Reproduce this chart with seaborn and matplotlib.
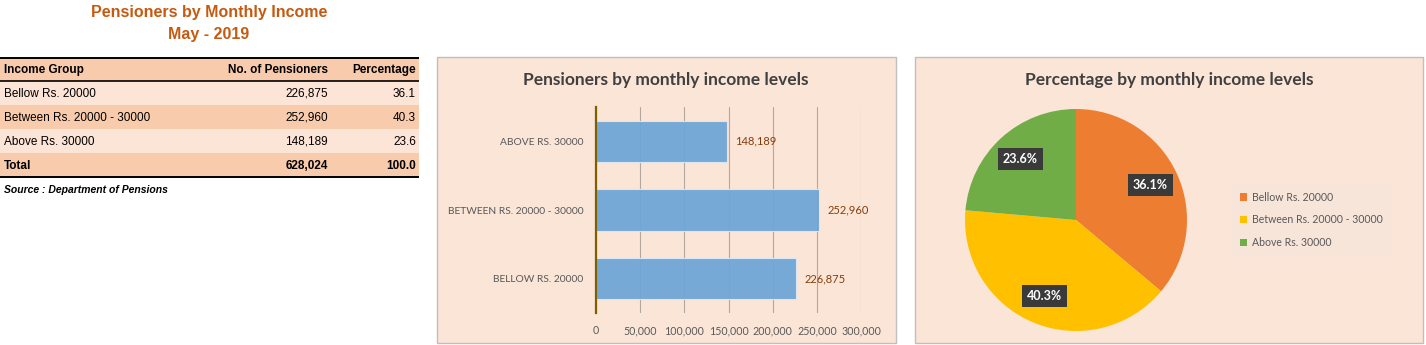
import matplotlib
matplotlib.use("Agg")
import matplotlib.pyplot as plt
from matplotlib import font_manager
from matplotlib.patches import Rectangle
from matplotlib.ticker import FuncFormatter
import seaborn as sns

# --- data -------------------------------------------------------------
groups = ["Bellow Rs. 20000", "Between Rs. 20000 - 30000", "Above Rs. 30000"]
pensioners = [226875, 252960, 148189]
percentages = [36.1, 40.3, 23.6]
total_pensioners = 628024
total_percentage = 100.0
x_ticks = [0, 50000, 100000, 150000, 200000, 250000, 300000]

# --- style ------------------------------------------------------------
sns.set_theme(style="white")
plt.rcParams["font.family"] = ["Liberation Sans", "DejaVu Sans"]
CHART_FONT = ["Lato", "DejaVu Sans"]
installed = {f.name for f in font_manager.fontManager.ttflist}
NARROW_FONT = ["Liberation Sans Narrow"] if "Liberation Sans Narrow" in installed else CHART_FONT
narrow_size = 8.6 if "Liberation Sans Narrow" in installed else 7.4

W, H = 1426, 345
fig = plt.figure(figsize=(W / 100, H / 100), dpi=100)
fig.patch.set_facecolor("white")


def px(l, t, r, b):
    """Pixel box -> figure fraction rect."""
    return [l / W, 1 - b / H, (r - l) / W, (b - t) / H]


PANEL_BG = "#FBE5D7"
TITLE_ORANGE = "#C55A11"
HEAD_FILL = "#F8CBAD"
ROW_FILL = "#FCE4D6"

# --- panel backgrounds (drawn beneath everything) ---------------------
for box in [(437, 57, 896, 343), (915, 57, 1423, 343)]:
    l, t, r, b = box
    fig.patches.append(Rectangle((l / W, 1 - b / H), (r - l) / W, (b - t) / H,
                                 transform=fig.transFigure, facecolor=PANEL_BG,
                                 edgecolor="#BFBFBF", lw=1.0, zorder=-10))

# --- left: title + table ---------------------------------------------
fig.text(209 / W, 1 - 13 / H, "Pensioners by Monthly Income", ha="center", va="center",
         fontsize=11.5, fontweight="bold", color=TITLE_ORANGE)
fig.text(209 / W, 1 - 34 / H, "May - 2019", ha="center", va="center",
         fontsize=11.5, fontweight="bold", color=TITLE_ORANGE)

tab = fig.add_axes(px(0, 57, 419, 178))
tab.set_xlim(0, 419)
tab.set_ylim(121, 0)
tab.axis("off")

rows = [("Income Group", "No. of Pensioners", "Percentage", True)]
for g, n, p in zip(groups, pensioners, percentages):
    rows.append((g, f"{n:,}", f"{p:.1f}", False))
rows.append(("Total", f"{total_pensioners:,}", f"{total_percentage:.1f}", True))
fills = [HEAD_FILL, ROW_FILL, HEAD_FILL, ROW_FILL, HEAD_FILL]
row_h = 24
for i, (a, b, c, bold) in enumerate(rows):
    y0 = i * row_h
    tab.add_patch(Rectangle((0, y0), 419, row_h, facecolor=fills[i], edgecolor="none"))
    yc = y0 + row_h / 2 + 1
    w = "bold" if bold else "normal"
    tab.text(4, yc, a, ha="left", va="center", fontsize=8.5, fontweight=w, color="black")
    tab.text(328, yc, b, ha="right", va="center", fontsize=8.5, fontweight=w, color="black")
    tab.text(416, yc, c, ha="right", va="center", fontsize=8.5, fontweight=w, color="black")
for yl, lw in [(0.5, 1.4), (24, 1.2), (120.3, 1.4)]:
    tab.plot([0, 419], [yl, yl], color="black", lw=lw, solid_capstyle="butt")

fig.text(4 / W, 1 - 190 / H, "Source : Department of Pensions", ha="left", va="center",
         fontsize=7.5, fontweight="bold", fontstyle="italic", color="black")

# --- middle: horizontal bar chart ------------------------------------
bar_order = [g.upper() for g in groups][::-1]
bar_vals = pensioners[::-1]

ax = fig.add_axes(px(596, 107, 861, 313))
ax.set_facecolor("none")
sns.barplot(x=bar_vals, y=bar_order, orient="h", color="#6FA6D6", width=0.6,
            saturation=1, edgecolor="#DCE9F5", linewidth=0.8, alpha=0.95, ax=ax, zorder=3)
ax.set_xlim(0, 300000)
ax.set_xticks(x_ticks)
ax.xaxis.set_major_formatter(FuncFormatter(lambda v, _: f"{int(v):,}"))
ax.grid(axis="x", color="#B3A79E", lw=0.8, zorder=0)
ax.grid(axis="y", visible=False)
for s in ["top", "right", "bottom"]:
    ax.spines[s].set_visible(False)
ax.spines["left"].set_color("#7F6000")
ax.spines["left"].set_linewidth(1.6)
ax.spines["left"].set_zorder(4)
ax.tick_params(axis="x", length=0, pad=9, labelsize=7.7, colors="#595959")
ax.tick_params(axis="y", length=0, pad=9, labelsize=narrow_size, colors="#595959")
for lbl in ax.get_xticklabels():
    lbl.set_family(CHART_FONT)
for lbl in ax.get_yticklabels():
    lbl.set_family(NARROW_FONT)
ax.set_xlabel("")
ax.set_ylabel("")
ax.bar_label(ax.containers[0], labels=[f"{v:,}" for v in bar_vals], padding=6,
             fontsize=8, color="#843C0C", family=CHART_FONT)
fig.text(666 / W, 1 - 80 / H, "Pensioners by monthly income levels", ha="center", va="center",
         fontsize=12.5, fontweight="bold", color="#404040", family=CHART_FONT)

# --- right: pie chart -------------------------------------------------
pie_colors = ["#ED7D31", "#FFC000", "#70AD47"]
pax = fig.add_axes(px(965, 109, 1187, 331))
wedges, _, autotexts = pax.pie(percentages, colors=pie_colors, startangle=90, counterclock=False,
                               autopct="%.1f%%", pctdistance=0.74,
                               wedgeprops=dict(edgecolor="none"))
pax.set_xlim(-1, 1)
pax.set_ylim(-1, 1)
pax.set_aspect("equal")
for t in autotexts:
    t.set_color("white")
    t.set_fontweight("bold")
    t.set_fontsize(9)
    t.set_family(CHART_FONT)
    t.set_bbox(dict(boxstyle="square,pad=0.4", facecolor="#3A3A3A", edgecolor="none"))

fig.text(1169 / W, 1 - 80 / H, "Percentage by monthly income levels", ha="center", va="center",
         fontsize=12.5, fontweight="bold", color="#404040", family=CHART_FONT)

leg = fig.legend(wedges, groups, loc="center left",
                 bbox_to_anchor=(1226 / W, 1 - 220 / H), frameon=True,
                 prop=dict(family=CHART_FONT, size=7.6),
                 handlelength=0.7, handleheight=0.7, handletextpad=0.5, labelspacing=1.1,
                 borderpad=0.8, fancybox=False, labelcolor="#595959")
leg.get_frame().set_facecolor("#F8E6DC")
leg.get_frame().set_edgecolor("none")

fig.savefig("out.png", dpi=100, facecolor="white")
